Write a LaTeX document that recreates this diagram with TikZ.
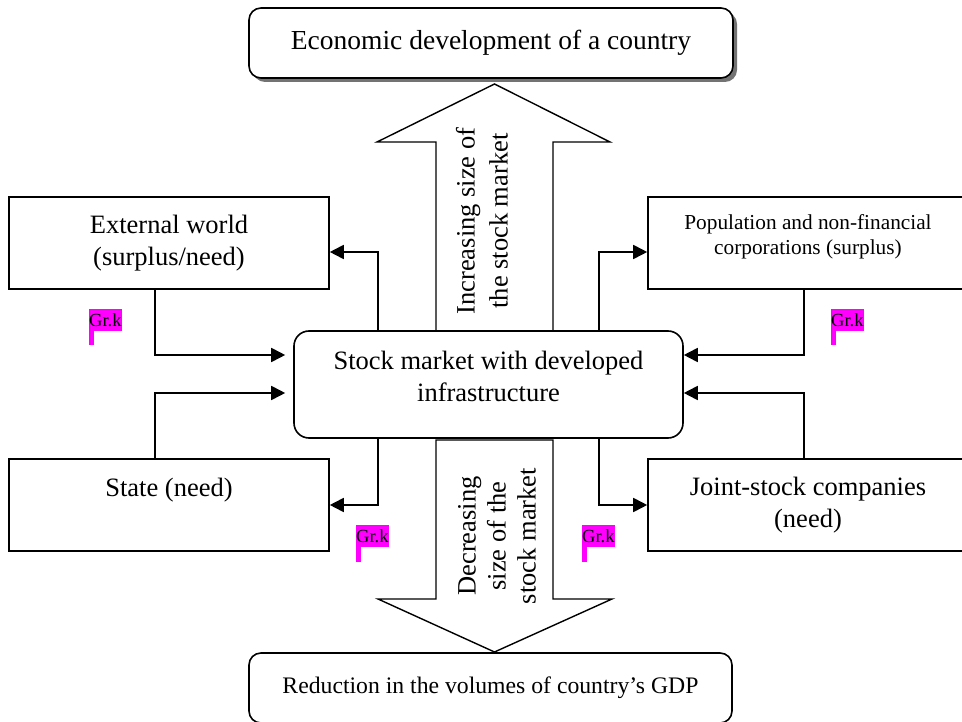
\documentclass[tikz,border=0pt]{standalone}
\usepackage{fontspec}
\setmainfont{Liberation Serif}
\usetikzlibrary{arrows.meta,shadows}

\definecolor{grkpink}{RGB}{255,0,255}

\tikzset{
  box/.style={draw, fill=white, line width=1.6pt, minimum width=320pt, minimum height=92pt,
    align=center, inner sep=0pt, font=\fontsize{26.5}{32}\selectfont},
  rbox/.style={box, rounded corners=12pt},
  conn/.style={line width=1.8pt, -{Triangle[length=14pt,width=14pt]}},
  blockarr/.style={draw, line width=1.4pt, fill=white, line join=miter},
  grk/.style={fill=grkpink, inner sep=0pt, minimum height=22pt, anchor=south west,
    font=\fontsize{18.5}{20}\selectfont},
}

\begin{document}
\begin{tikzpicture}[x=1pt,y=1pt]
		\useasboundingbox (0,0) rectangle (962,721);
		\clip (0,0) rectangle (962,721);
		
		%%%%% big arrows %%%%%
		\draw[blockarr] (436,390) -- (436,579) -- (377,579) -- (494.5,637) -- (610,579) -- (553,579) -- (553,390) -- cycle;
		\draw[blockarr] (436,281) -- (436,122) -- (378,122) -- (494.5,69) -- (612,122) -- (553,122) -- (553,281) -- cycle;
		
		\node[rotate=90, align=center, font=\fontsize{26.5}{33}\selectfont] (uptxt) at (482,500) {Increasing size of\\the stock market};
		\node[rotate=90, align=center, font=\fontsize{26.5}{30}\selectfont] (downtxt) at (497,185) {Decreasing\\size of the\\stock market};
		
		%%%%% boxes %%%%%
		\node[rbox, minimum width=484pt, minimum height=70pt, font=\fontsize{27.5}{33}\selectfont,
		  drop shadow={shadow xshift=4pt, shadow yshift=-4pt, fill=black!55, opacity=1}] (econ) at (491,678) {Economic development of a country};
		\node[rbox, minimum width=389pt, minimum height=107pt, rounded corners=15pt, text depth=17pt] (market) at (488.5,336.5) {Stock market with developed\\infrastructure};
		\node[rbox, minimum width=483pt, minimum height=70pt, font=\fontsize{23.7}{28}\selectfont] (gdp) at (490.5,33) {Reduction in the volumes of country's GDP};
		
		\node[box] (ext) at (169,478) {External world\\(surplus/need)};
		\node[box, font=\fontsize{21.3}{25}\selectfont, text depth=16pt] (pop) at (808,478) {Population and non-financial\\corporations (surplus)};
		\node[box, text height=20pt, text depth=36pt] (state) at (169,216) {State (need)};
		\node[box] (jsc) at (808,216) {Joint-stock companies\\(need)};
		
		%%%%% flows %%%%%
		\draw[conn] ([xshift=-110.5pt]market.north) |- ([yshift=-9pt]ext.east);
		\draw[conn, shorten >=8pt] ([xshift=-14pt]ext.south) |- ([yshift=29.5pt]market.west);
		\draw[conn, shorten >=8pt] ([xshift=-14pt]state.north) |- ([yshift=-8.5pt]market.west);
		\draw[conn] ([xshift=-110.5pt]market.south) |- (state.east);
		
		\draw[conn] ([xshift=110.5pt]market.north) |- ([yshift=-9pt]pop.west);
		\draw[conn] ([xshift=-4pt]pop.south) |- ([yshift=29.5pt]market.east);
		\draw[conn] ([xshift=-4pt]jsc.north) |- ([yshift=-8.5pt]market.east);
		\draw[conn] ([xshift=110.5pt]market.south) |- (jsc.west);
		
		%%%%% Gr.k marks %%%%%
		\node[grk] (grk1) at (89,390) {Gr.k};
		\fill[grkpink] (grk1.south west) rectangle ++(5,-14);
		\node[grk] (grk2) at (831,390) {Gr.k};
		\fill[grkpink] (grk2.south west) rectangle ++(5,-14);
		\node[grk] (grk3) at (356,174) {Gr.k};
		\fill[grkpink] (grk3.south west) rectangle ++(5,-15);
		\node[grk] (grk4) at (582,174) {Gr.k};
		\fill[grkpink] (grk4.south west) rectangle ++(5,-15);
	\end{tikzpicture}
\end{document}
